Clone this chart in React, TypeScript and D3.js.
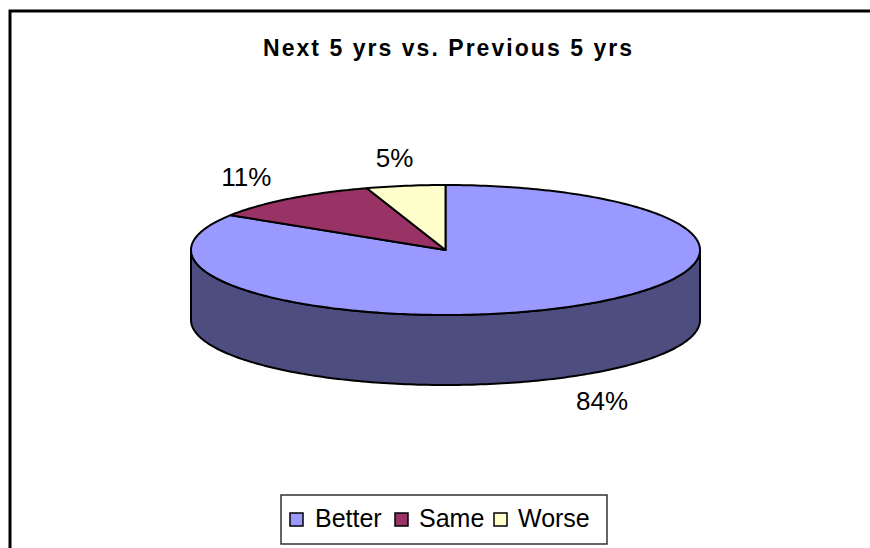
import React from "react";
import * as d3 from "d3";

const categories = ["Better", "Same", "Worse"];
const values = [84, 11, 5];
const labels = ["84%", "11%", "5%"];
const topColors = ["#9999FF", "#993366", "#FFFFCC"];
const sideColors = ["#4D4D80", "#4D1933", "#808066"];
const title = "Next 5 yrs vs. Previous 5 yrs";

const W = 870;
const H = 548;
const cx = 445.5;
const cy = 250;
const rx = 254.5;
const ry = 65;
const depth = 70;
const labelRx = 325;
const labelRy = 93;

function px(a: number) {
  return cx + rx * Math.sin(a);
}
function py(a: number) {
  return cy - ry * Math.cos(a);
}

export default function App() {
  const pie = d3.pie<number>().sort(null).value((d) => d);
  const arcs = pie(values);
  const line = d3.line<[number, number]>();

  const arcPts = (a0: number, a1: number, dy = 0): [number, number][] => {
    const n = Math.max(2, Math.ceil(((a1 - a0) / (2 * Math.PI)) * 360));
    return d3.range(n + 1).map((i) => {
      const a = a0 + ((a1 - a0) * i) / n;
      return [px(a), py(a) + dy] as [number, number];
    });
  };

  const topPath = (a0: number, a1: number) => {
    const pts: [number, number][] = [[cx, cy], ...arcPts(a0, a1)];
    return line(pts) + "Z";
  };

  const sides: { d: string; i: number }[] = [];
  arcs.forEach((a, i) => {
    const s = Math.max(a.startAngle, Math.PI / 2);
    const e = Math.min(a.endAngle, (3 * Math.PI) / 2);
    if (e > s) {
      const top = arcPts(s, e);
      const bot = arcPts(s, e, depth).reverse();
      sides.push({ d: line([...top, ...bot]) + "Z", i });
    }
  });

  const legendX = [290, 395, 494];
  const legendTextX = [315, 419, 518];

  return (
    <svg width={W} height={H} style={{ position: "absolute", left: 0, top: 0 }}>
      <rect x={0} y={0} width={W} height={H} fill="#fff" />
      <rect x={10} y={11} width={W + 20} height={H + 20} fill="none" stroke="#000" strokeWidth={3} />
      <text
        x={263}
        y={56}
        fontFamily="Liberation Sans, Arial, sans-serif"
        fontWeight="bold"
        fontSize={23}
        textLength={369}
        lengthAdjust="spacing"
      >
        {title}
      </text>
      {sides.map((s, k) => (
        <path key={"s" + k} d={s.d} fill={sideColors[s.i]} stroke="#000" strokeWidth={2} strokeLinejoin="round" />
      ))}
      {arcs.map((a, i) => (
        <path key={"t" + i} d={topPath(a.startAngle, a.endAngle)} fill={topColors[i]} stroke="#000" strokeWidth={2} strokeLinejoin="round" />
      ))}
      {arcs.map((a, i) => {
        const m = (a.startAngle + a.endAngle) / 2;
        const x = cx + labelRx * Math.sin(m);
        const c = -Math.cos(m);
        const y = cy + labelRy * c + (c > 0 ? depth : 0);
        return (
          <text
            key={"l" + i}
            x={x}
            y={y}
            textAnchor="middle"
            dominantBaseline="central"
            fontFamily="Liberation Sans, Arial, sans-serif"
            fontSize={26}
          >
            {labels[i]}
          </text>
        );
      })}
      <rect x={281} y={495} width={326} height={49} fill="#fff" stroke="#333" strokeWidth={1.5} />
      {categories.map((c, i) => (
        <g key={"lg" + i}>
          <rect x={legendX[i]} y={513} width={13} height={13} fill={topColors[i]} stroke="#000" strokeWidth={1.5} />
          <text x={legendTextX[i]} y={527} fontFamily="Liberation Sans, Arial, sans-serif" fontSize={25}>
            {c}
          </text>
        </g>
      ))}
    </svg>
  );
}
